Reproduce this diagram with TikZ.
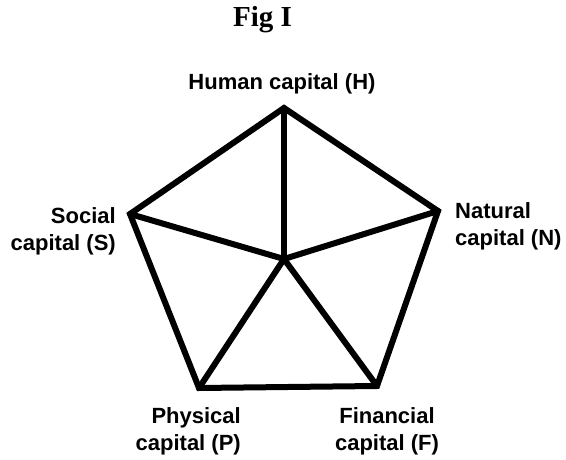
\documentclass[tikz,border=0pt]{standalone}
\usepackage{fontspec}
\newfontfamily\labfont{Liberation Sans}
\newfontfamily\titfont{Liberation Serif}
\begin{document}
\begin{tikzpicture}[x=1pt,y=-1pt,
  edge/.style={line width=6pt,line join=miter,line cap=round},
  lab/.style={font=\labfont\bfseries\fontsize{22}{27}\selectfont,inner sep=0pt},
  vtx/.style={inner sep=0pt,minimum size=0pt}]
\useasboundingbox (0,0) rectangle (566,460);
\node[font=\titfont\bfseries\fontsize{29}{32}\selectfont,inner sep=0pt,anchor=base] (title) at (262.5,27) {Fig I};
\coordinate (H) at (284,108);
\coordinate (N) at (438,211);
\coordinate (F) at (377,386);
\coordinate (P) at (199,388);
\coordinate (S) at (130,214);
\coordinate (C) at (284,259);
\draw[edge] (H) -- (N) -- (F) -- (P) -- (S) -- cycle;
\draw[edge] (H) -- (C);
\draw[edge] (N) -- (C);
\draw[edge] (F) -- (C);
\draw[edge] (P) -- (C);
\draw[edge] (S) -- (C);
\node[lab] (lH) at (282,84) {Human capital (H)};
\node[lab,align=right,anchor=east] (lS) at (116,231) {Social\\capital (S)};
\node[lab,align=left,anchor=west] (lN) at (455,226) {Natural\\capital (N)};
\node[lab,align=right,anchor=east] (lP) at (241,431) {Physical\\capital (P)};
\node[lab,align=center] (lF) at (387,431) {Financial\\capital (F)};
\end{tikzpicture}
\end{document}
